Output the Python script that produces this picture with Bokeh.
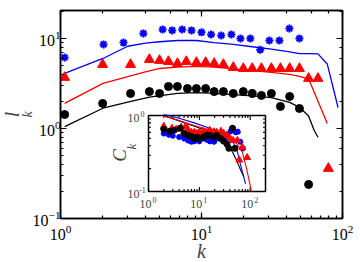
import numpy as np
from bokeh.plotting import figure
from bokeh.models import Range1d, LogScale, LogAxis, LogTicker, Label, Title, CustomJSTickFormatter
from bokeh.embed import file_html
from bokeh.resources import INLINE

# ---------------- main panel data ----------------
k_black = [1.07, 1.99, 3.14, 4.27, 5.04, 5.83, 6.75, 7.95, 9.2, 10.7, 12.3, 14.3,
           16.8, 19.8, 22.9, 26.6, 31.3, 36.3, 42.2, 49.5, 57.5]
l_black = [1.43, 1.9, 2.45, 2.57, 2.45, 2.93, 2.93, 2.78, 2.78, 2.78, 2.57, 2.57,
           2.45, 2.57, 2.45, 2.33, 2.45, 1.76, 2.27, 1.67, 0.239]

k_red = [1.07, 1.99, 3.14, 4.27, 5.04, 5.83, 6.75, 7.8, 9.2, 10.7, 12.3, 14.3,
         16.8, 19.8, 22.9, 26.6, 31.3, 36.3, 42.2, 49.5, 57.5, 67.0, 79.4]
l_red = [3.69, 5.14, 5.14, 5.84, 5.7, 5.55, 5.27, 5.55, 5.41, 5.41, 5.27, 5.14,
         4.76, 4.64, 4.64, 4.64, 4.64, 4.64, 4.64, 4.64, 3.6, 3.6, 0.36]

k_blue = [1.07, 2.02, 2.8, 3.87, 5.3, 6.2, 7.3, 8.5, 10.0, 11.7, 13.8, 16.3,
          18.9, 22.2, 26.1, 30.3, 35.7, 42.0, 49.5]
l_blue = [6.16, 8.6, 9.0, 11.4, 12.6, 12.3, 12.6, 12.3, 11.7, 11.1, 10.8, 11.1,
          10.0, 10.0, 7.5, 9.5, 9.5, 12.9, 10.0]

# model curves (main)
k_fit_black = [1.07, 2.0, 3.0, 4.27, 6.75, 9.2, 12.3, 16.8, 22.9, 31.3, 42.2, 49.5, 57.5, 63.0, 67.0]
l_fit_black = [1.05, 1.68, 1.96, 2.23, 2.45, 2.5, 2.45, 2.38, 2.3, 2.2, 1.95, 1.72, 1.38, 0.95, 0.8]
k_fit_red = [1.07, 2.0, 3.0, 4.0, 5.0, 6.75, 9.2, 12.3, 16.8, 22.9, 31.3, 42.2, 49.5, 57.5, 78.0]
l_fit_red = [1.9, 3.17, 3.78, 4.26, 4.64, 4.8, 4.9, 4.8, 4.6, 4.4, 4.2, 4.0, 3.8, 3.56, 1.14]
k_fit_blue = [1.07, 2.0, 3.0, 4.0, 5.04, 6.75, 9.2, 12.3, 16.8, 22.9, 31.3, 42.2, 49.5, 57.5, 67.0, 78.0, 93.0]
l_fit_blue = [4.1, 6.0, 8.2, 8.9, 9.2, 9.5, 9.5, 9.0, 8.6, 8.1, 7.6, 7.1, 6.8, 6.8, 6.75, 5.2, 1.71]

# ---------------- inset data ----------------
kc_black = [2.0, 2.6, 3.2, 4.2, 5.0, 6.0, 7.0, 8.0, 9.0, 10.0, 12.0, 14.0, 16.0,
            19.0, 22.0, 26.0, 30.0, 35.0, 38.0, 45.0, 50.0]
c_black = [0.66, 0.62, 0.64, 0.68, 0.58, 0.55, 0.53, 0.5, 0.52, 0.5, 0.52, 0.55, 0.55,
           0.52, 0.55, 0.5, 0.46, 0.42, 0.37, 0.68, 0.37]
kc_red = [2.0, 2.9, 3.5, 4.4, 5.4, 6.0, 7.0, 8.0, 9.0, 10.0, 12.0, 14.0, 16.0,
          19.5, 22.0, 26.6, 30.0, 35.0, 40.0, 46.0, 56.0, 61.0, 70.0, 87.0]
c_red = [0.72, 0.68, 0.66, 0.7, 0.72, 0.65, 0.6, 0.6, 0.58, 0.6, 0.62, 0.6, 0.64,
         0.61, 0.6, 0.62, 0.58, 0.55, 0.5, 0.47, 0.47, 0.26, 0.38, 0.28]
kc_blue = [2.0, 2.5, 3.0, 4.0, 5.0, 6.0, 7.0, 8.0, 9.0, 10.0, 12.0, 14.0, 16.0,
           19.5, 22.0, 26.0, 30.0, 35.0, 41.0, 45.0, 52.0, 57.0, 64.0, 72.0]
c_blue = [0.58, 0.56, 0.54, 0.52, 0.5, 0.47, 0.45, 0.46, 0.48, 0.46, 0.5, 0.48, 0.46,
          0.45, 0.5, 0.55, 0.5, 0.55, 0.62, 0.68, 0.6, 0.61, 0.45, 0.37]

kc_fit_black = [2.0, 4.0, 8.0, 15.0, 25.0, 35.0, 45.0, 55.0, 65.0, 75.0]
c_fit_black = [1.0, 0.85, 0.72, 0.62, 0.52, 0.42, 0.33, 0.25, 0.19, 0.158]
kc_fit_blue = [2.0, 4.0, 8.0, 15.0, 25.0, 35.0, 45.0, 55.0, 65.0, 81.0]
c_fit_blue = [1.03, 0.92, 0.8, 0.69, 0.6, 0.53, 0.46, 0.35, 0.22, 0.126]
kc_fit_red = [2.0, 4.0, 8.0, 15.0, 25.0, 40.0, 55.0, 70.0, 85.0, 100.0, 106.0]
c_fit_red = [0.98, 0.86, 0.74, 0.65, 0.58, 0.5, 0.42, 0.33, 0.2, 0.12, 0.1]

inset_xticks_major = [1, 10, 100]
inset_xticks_minor = [2, 3, 4, 5, 6, 7, 8, 9, 20, 30, 40, 50, 60, 70, 80, 90]
inset_yticks_major = [0.1, 1.0]
inset_yticks_minor = [0.2, 0.3, 0.4, 0.5, 0.6, 0.7, 0.8, 0.9]
inset_xlabels = {1: "0", 10: "1", 100: "2"}
inset_ylabels = {0.1: "-1", 1.0: "0"}

FONT = "Liberation Serif"
BLUE = "#0000ff"
RED = "#ff0000"
BLACK = "#000000"

# ---------------- layout ----------------
FX0, FY0, FW, FH = 60, 10, 282, 208        # main frame (page px)
IX0, IX1, IY0, IY1 = 148, 265, 115, 191    # inset frame (page px)
IXMAX = 200.0
PW, PH = 360, 262

ytop = 10 ** (1 + 28 / 90)
p = figure(frame_width=FW, frame_height=FH, x_axis_type="log", y_axis_type="log",
           x_range=Range1d(1, 100), y_range=Range1d(0.1, ytop),
           output_backend="svg", toolbar_location=None,
           min_border_left=FX0, min_border_right=PW - FX0 - FW, min_border_top=FY0,
           min_border_bottom=PH - FY0 - FH,
           background_fill_color="white", border_fill_color="white")
p.grid.visible = False
p.outline_line_color = BLACK
p.outline_line_width = 1.5

for ax in [p.xaxis[0], p.yaxis[0]]:
    ax.major_label_text_font = FONT
    ax.major_label_text_font_size = "16px"
    ax.major_label_text_color = BLACK
    ax.major_tick_in = 6
    ax.major_tick_out = 0
    ax.minor_tick_in = 3
    ax.minor_tick_out = 0
    ax.axis_line_width = 1.5
    ax.major_tick_line_width = 1.2
    ax.minor_tick_line_width = 1.2
p.xaxis[0].major_label_standoff = 6
p.yaxis[0].major_label_standoff = 0
p.xaxis[0].axis_label = "k"
p.xaxis[0].axis_label_text_font = FONT
p.xaxis[0].axis_label_text_font_style = "italic"
p.xaxis[0].axis_label_text_font_size = "20px"
p.xaxis[0].axis_label_standoff = -3

# y title: subscript k as the axis label, l as a title further out
p.yaxis[0].axis_label = "k"
p.yaxis[0].axis_label_text_font = FONT
p.yaxis[0].axis_label_text_font_style = "italic"
p.yaxis[0].axis_label_text_font_size = "14px"
p.yaxis[0].axis_label_standoff = -5
p.add_layout(Title(text="l", text_font=FONT, text_font_style="italic",
                   text_font_size="20px", align="center", standoff=-12, offset=-3), "left")

for loc in ["right", "above"]:
    ax = LogAxis(ticker=LogTicker(), formatter=CustomJSTickFormatter(code="return ''"))
    ax.major_label_text_font_size = "1px"
    ax.major_label_standoff = 0
    ax.major_tick_in = 6
    ax.major_tick_out = 0
    ax.minor_tick_in = 3
    ax.minor_tick_out = 0
    ax.axis_line_width = 1.5
    ax.major_tick_line_width = 1.2
    ax.minor_tick_line_width = 1.2
    p.add_layout(ax, loc)

# main curves and markers
p.line(k_fit_blue, l_fit_blue, line_color=BLUE, line_width=1.3)
p.line(k_fit_red, l_fit_red, line_color=RED, line_width=1.3)
p.line(k_fit_black, l_fit_black, line_color=BLACK, line_width=1.3)
p.scatter(k_blue, l_blue, marker="asterisk", size=8, line_color=BLUE, line_width=2)
p.scatter(k_red, l_red, marker="triangle", size=10, fill_color=RED, line_color=RED)
p.scatter(k_black, l_black, marker="circle", size=8, fill_color=BLACK, line_color=BLACK)

# ---------------- inset via extra ranges ----------------
ixd = (IX1 - IX0) / np.log10(IXMAX)
iyd = (IY1 - IY0) / 1.0
p.extra_x_ranges = {"ix": Range1d(10 ** (-(IX0 - FX0) / ixd), 10 ** ((FX0 + FW - IX0) / ixd))}
p.extra_y_ranges = {"iy": Range1d(10 ** (-1 - (FY0 + FH - IY1) / iyd), 10 ** ((IY0 - FY0) / iyd))}
p.extra_x_scales = {"ix": LogScale()}
p.extra_y_scales = {"iy": LogScale()}
R = dict(x_range_name="ix", y_range_name="iy")

p.quad(left=[1], right=[IXMAX], bottom=[0.1], top=[1.0], fill_color="white",
       line_color=BLACK, line_width=1.5, **R)

def tick_segs(vals, L, axis):
    x0, y0, x1, y1 = [], [], [], []
    for v in vals:
        if axis == "x":
            for base, sgn in [(0.1, 1), (1.0, -1)]:
                x0.append(v); x1.append(v)
                y0.append(base); y1.append(base * 10 ** (sgn * L / iyd))
        else:
            for base, sgn in [(1.0, 1), (IXMAX, -1)]:
                y0.append(v); y1.append(v)
                x0.append(base); x1.append(base * 10 ** (sgn * L / ixd))
    return x0, y0, x1, y1

for vals, L in [(inset_xticks_major, 4.5), (inset_xticks_minor, 2.5)]:
    a, b, c, d = tick_segs(vals, L, "x")
    p.segment(a, b, c, d, line_color=BLACK, line_width=1.1, **R)
for vals, L in [(inset_yticks_major, 4.5), (inset_yticks_minor, 2.5)]:
    a, b, c, d = tick_segs(vals, L, "y")
    p.segment(a, b, c, d, line_color=BLACK, line_width=1.1, **R)

p.line(kc_fit_blue, c_fit_blue, line_color=BLUE, line_width=1.1, **R)
p.line(kc_fit_black, c_fit_black, line_color=BLACK, line_width=1.1, **R)
p.line(kc_fit_red, c_fit_red, line_color=RED, line_width=1.1, **R)
p.scatter(kc_blue, c_blue, marker="asterisk", size=6, line_color=BLUE, line_width=1.8, **R)
p.scatter(kc_red, c_red, marker="triangle", size=7, fill_color=RED, line_color=RED, **R)
p.scatter(kc_black, c_black, marker="circle", size=6, fill_color=BLACK, line_color=BLACK, **R)

for v, e in inset_xlabels.items():
    p.add_layout(Label(x=v, y=0.1, x_offset=-3, y_offset=-12, text="10", text_font=FONT,
                       text_font_size="12px", text_align="center", text_baseline="middle", **R))
    p.add_layout(Label(x=v, y=0.1, x_offset=6, y_offset=-8, text=e, text_font=FONT,
                       text_font_size="8px", text_align="center", text_baseline="middle", **R))
for v, e in inset_ylabels.items():
    p.add_layout(Label(x=1, y=v, x_offset=-15, y_offset=-2, text="10", text_font=FONT,
                       text_font_size="12px", text_align="center", text_baseline="middle", **R))
    p.add_layout(Label(x=1, y=v, x_offset=-6, y_offset=2, text=e, text_font=FONT,
                       text_font_size="8px", text_align="center", text_baseline="middle", **R))

p.add_layout(Label(x=1, y=10 ** (-(155 - IY0) / iyd), x_offset=-(IX0 - 119), text="C",
                   text_font=FONT, text_font_style="italic", text_font_size="19px",
                   angle=np.pi / 2, text_align="center", text_baseline="middle", **R))
p.add_layout(Label(x=1, y=10 ** (-(146 - IY0) / iyd), x_offset=-(IX0 - 131), text="k",
                   text_font=FONT, text_font_style="italic", text_font_size="13px",
                   angle=np.pi / 2, text_align="center", text_baseline="middle", **R))

open("out.html", "w").write(file_html(p, INLINE))
